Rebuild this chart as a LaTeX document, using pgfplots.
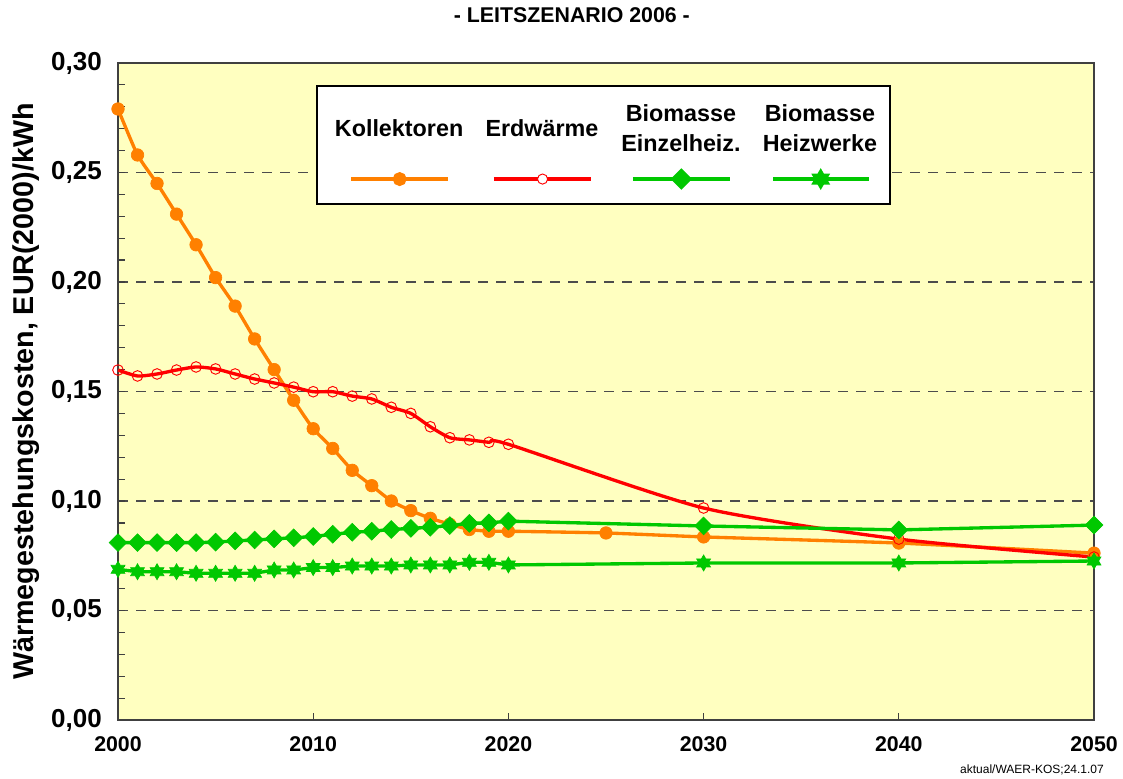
\documentclass[border=0pt]{standalone}
\usepackage{pgfplots}
\usepackage{pgfplotstable}
\pgfplotsset{compat=1.18}
\usepackage{fontspec}
\setmainfont{Liberation Sans}
\definecolor{kol}{RGB}{255,128,0}
\definecolor{erd}{RGB}{255,0,0}
\definecolor{bio}{RGB}{0,200,0}
\definecolor{bg}{RGB}{255,255,192}

\pgfdeclareplotmark{hexstar}{%
  \pgfpathmoveto{\pgfpointpolar{90}{\pgfplotmarksize}}%
  \pgfpathlineto{\pgfpointpolar{120}{0.577\pgfplotmarksize}}%
  \pgfpathlineto{\pgfpointpolar{150}{\pgfplotmarksize}}%
  \pgfpathlineto{\pgfpointpolar{180}{0.577\pgfplotmarksize}}%
  \pgfpathlineto{\pgfpointpolar{210}{\pgfplotmarksize}}%
  \pgfpathlineto{\pgfpointpolar{240}{0.577\pgfplotmarksize}}%
  \pgfpathlineto{\pgfpointpolar{270}{\pgfplotmarksize}}%
  \pgfpathlineto{\pgfpointpolar{300}{0.577\pgfplotmarksize}}%
  \pgfpathlineto{\pgfpointpolar{330}{\pgfplotmarksize}}%
  \pgfpathlineto{\pgfpointpolar{0}{0.577\pgfplotmarksize}}%
  \pgfpathlineto{\pgfpointpolar{30}{\pgfplotmarksize}}%
  \pgfpathlineto{\pgfpointpolar{60}{0.577\pgfplotmarksize}}%
  \pgfpathclose
  \pgfusepathqfillstroke
}

\pgfplotstableread{
x y
2000 0.279
2001 0.258
2002 0.245
2003 0.231
2004 0.217
2005 0.202
2006 0.189
2007 0.174
2008 0.160
2009 0.146
2010 0.133
2011 0.124
2012 0.114
2013 0.107
2014 0.100
2015 0.0956
2016 0.0921
2017 0.0894
2018 0.0870
2019 0.0862
2020 0.0862
2025 0.0854
2030 0.0836
2040 0.0808
2050 0.0762
}\kollektoren

\pgfplotstableread{
x y
2000 0.1598
2001 0.1571
2002 0.1580
2003 0.1598
2004 0.1612
2005 0.1603
2006 0.1580
2007 0.1557
2008 0.1539
2009 0.1520
2010 0.1499
2011 0.1499
2012 0.1479
2013 0.1466
2014 0.1428
2015 0.1400
2016 0.1339
2017 0.1289
2018 0.1279
2019 0.1268
2020 0.1259
2030 0.0968
2040 0.0826
2050 0.0744
}\erdwaerme

\pgfplotstableread{
x y
2000 0.0810
2001 0.0810
2002 0.0810
2003 0.0810
2004 0.0810
2005 0.0812
2006 0.0818
2007 0.0822
2008 0.0827
2009 0.0832
2010 0.0838
2011 0.0848
2012 0.0857
2013 0.0862
2014 0.0870
2015 0.0875
2016 0.0880
2017 0.0888
2018 0.0898
2019 0.0900
2020 0.0908
2030 0.0886
2040 0.0868
2050 0.0890
}\einzel

\pgfplotstableread{
x y
2000 0.0688
2001 0.0677
2002 0.0677
2003 0.0677
2004 0.0670
2005 0.0670
2006 0.0670
2007 0.0670
2008 0.0685
2009 0.0685
2010 0.0696
2011 0.0696
2012 0.0703
2013 0.0703
2014 0.0703
2015 0.0708
2016 0.0708
2017 0.0708
2018 0.0720
2019 0.0720
2020 0.0708
2030 0.0717
2040 0.0717
2050 0.0726
}\heizwerke

\pgfplotstableread{
x y
2011.94 0.2470
2014.43 0.2470
2016.91 0.2470
}\legA
\pgfplotstableread{
x y
2019.26 0.2470
2021.75 0.2470
2024.23 0.2470
}\legB
\pgfplotstableread{
x y
2026.38 0.2470
2028.86 0.2470
2031.35 0.2470
}\legC
\pgfplotstableread{
x y
2033.56 0.2470
2036.00 0.2470
2038.47 0.2470
}\legD

\begin{document}
\begin{tikzpicture}
\begin{axis}[
  at={(0,0)}, anchor=south west,
  scale only axis, width=732pt, height=492.75pt,
  xmin=2000, xmax=2050, ymin=0, ymax=0.30,
  xtick={2000,2010,2020,2030,2040,2050},
  ytick={0,0.05,0.10,0.15,0.20,0.25,0.30},
  minor y tick num=4,
  tick pos=left, tick align=inside,
  major tick length=5.5pt, minor tick length=5.5pt,
  every tick/.style={black!75, line width=0.9pt},
  ymajorgrids,
  major grid style={black!70, line width=0.9pt, dash pattern=on 7.5pt off 6pt},
  axis background/.style={fill=bg},
  axis line style={black!75, line width=1pt},
  clip=false,
  /pgf/number format/assume math mode=true,
  x tick label style={/pgf/number format/1000 sep={}, font=\bfseries\fontsize{16}{19}\selectfont, anchor=north, inner sep=0pt, yshift=-12.5pt},
  y tick label style={/pgf/number format/.cd, fixed, fixed zerofill, precision=2, use comma, /tikz/.cd, font=\bfseries\fontsize{19.5}{23}\selectfont, anchor=east, inner sep=0pt, xshift=-12pt},
  title={- LEITSZENARIO 2006 -},
  title style={at={(axis description cs:0.465,1)}, anchor=center, yshift=30pt, font=\bfseries\fontsize{16}{19}\selectfont},
  ylabel={Wärmegestehungskosten, EUR(2000)/kWh},
  ylabel style={at={(axis description cs:-0.0943,0.5)}, anchor=center, font=\bfseries\fontsize{21.5}{25}\selectfont},
]
\addplot[kol, line width=2.5pt, smooth, tension=0.3, mark=*, mark size=4.7pt, mark options={solid, fill=kol, line width=0.5pt}] table[x=x,y=y] {\kollektoren};
\addplot[erd, line width=2.5pt, smooth, tension=0.4, mark=o, mark size=4pt, mark options={solid, line width=0.7pt}] table[x=x,y=y] {\erdwaerme};
\addplot[bio, line width=2.5pt, mark=square*, mark size=4.7pt, mark options={solid, fill=bio, rotate=45, line width=0.5pt}] table[x=x,y=y] {\einzel};
\addplot[bio, line width=2.5pt, mark=hexstar, mark size=6pt, mark options={solid, fill=bio, line width=0.5pt}] table[x=x,y=y] {\heizwerke};

% legend
\draw[black, line width=1.1pt, fill=white] (axis cs:2010.19,0.2895) rectangle (axis cs:2039.55,0.2356);
\node[font=\bfseries\fontsize{17.5}{23}\selectfont, align=center] at (axis cs:2014.40,0.2703) {Kollektoren};
\node[font=\bfseries\fontsize{17.5}{23}\selectfont, align=center] at (axis cs:2021.72,0.2703) {Erdwärme};
\node[font=\bfseries\fontsize{17.5}{23}\selectfont, align=center] at (axis cs:2028.84,0.2703) {Biomasse\\Einzelheiz.};
\node[font=\bfseries\fontsize{17.5}{23}\selectfont, align=center] at (axis cs:2035.96,0.2703) {Biomasse\\Heizwerke};
\addplot[kol, line width=2.4pt, mark=*, mark indices={2}, mark size=4pt, mark options={fill=kol}] table[x=x,y=y] {\legA};
\addplot[erd, line width=2.4pt, mark=*, mark indices={2}, mark size=3.8pt, mark options={fill=white, line width=0.7pt}] table[x=x,y=y] {\legB};
\addplot[bio, line width=2.4pt, mark=square*, mark indices={2}, mark size=4.5pt, mark options={fill=bio, rotate=45}] table[x=x,y=y] {\legC};
\addplot[bio, line width=2.4pt, mark=hexstar, mark indices={2}, mark size=5.8pt, mark options={fill=bio}] table[x=x,y=y] {\legD};

\node[font=\fontsize{9}{11}\selectfont] at (axis description cs:0.9365,-0.0761) {aktual/WAER-KOS;24.1.07};
\end{axis}
\pgfresetboundingbox
\path[use as bounding box] (-88.5pt,-43.5pt) rectangle (753.75pt,540pt);
\end{tikzpicture}
\end{document}
